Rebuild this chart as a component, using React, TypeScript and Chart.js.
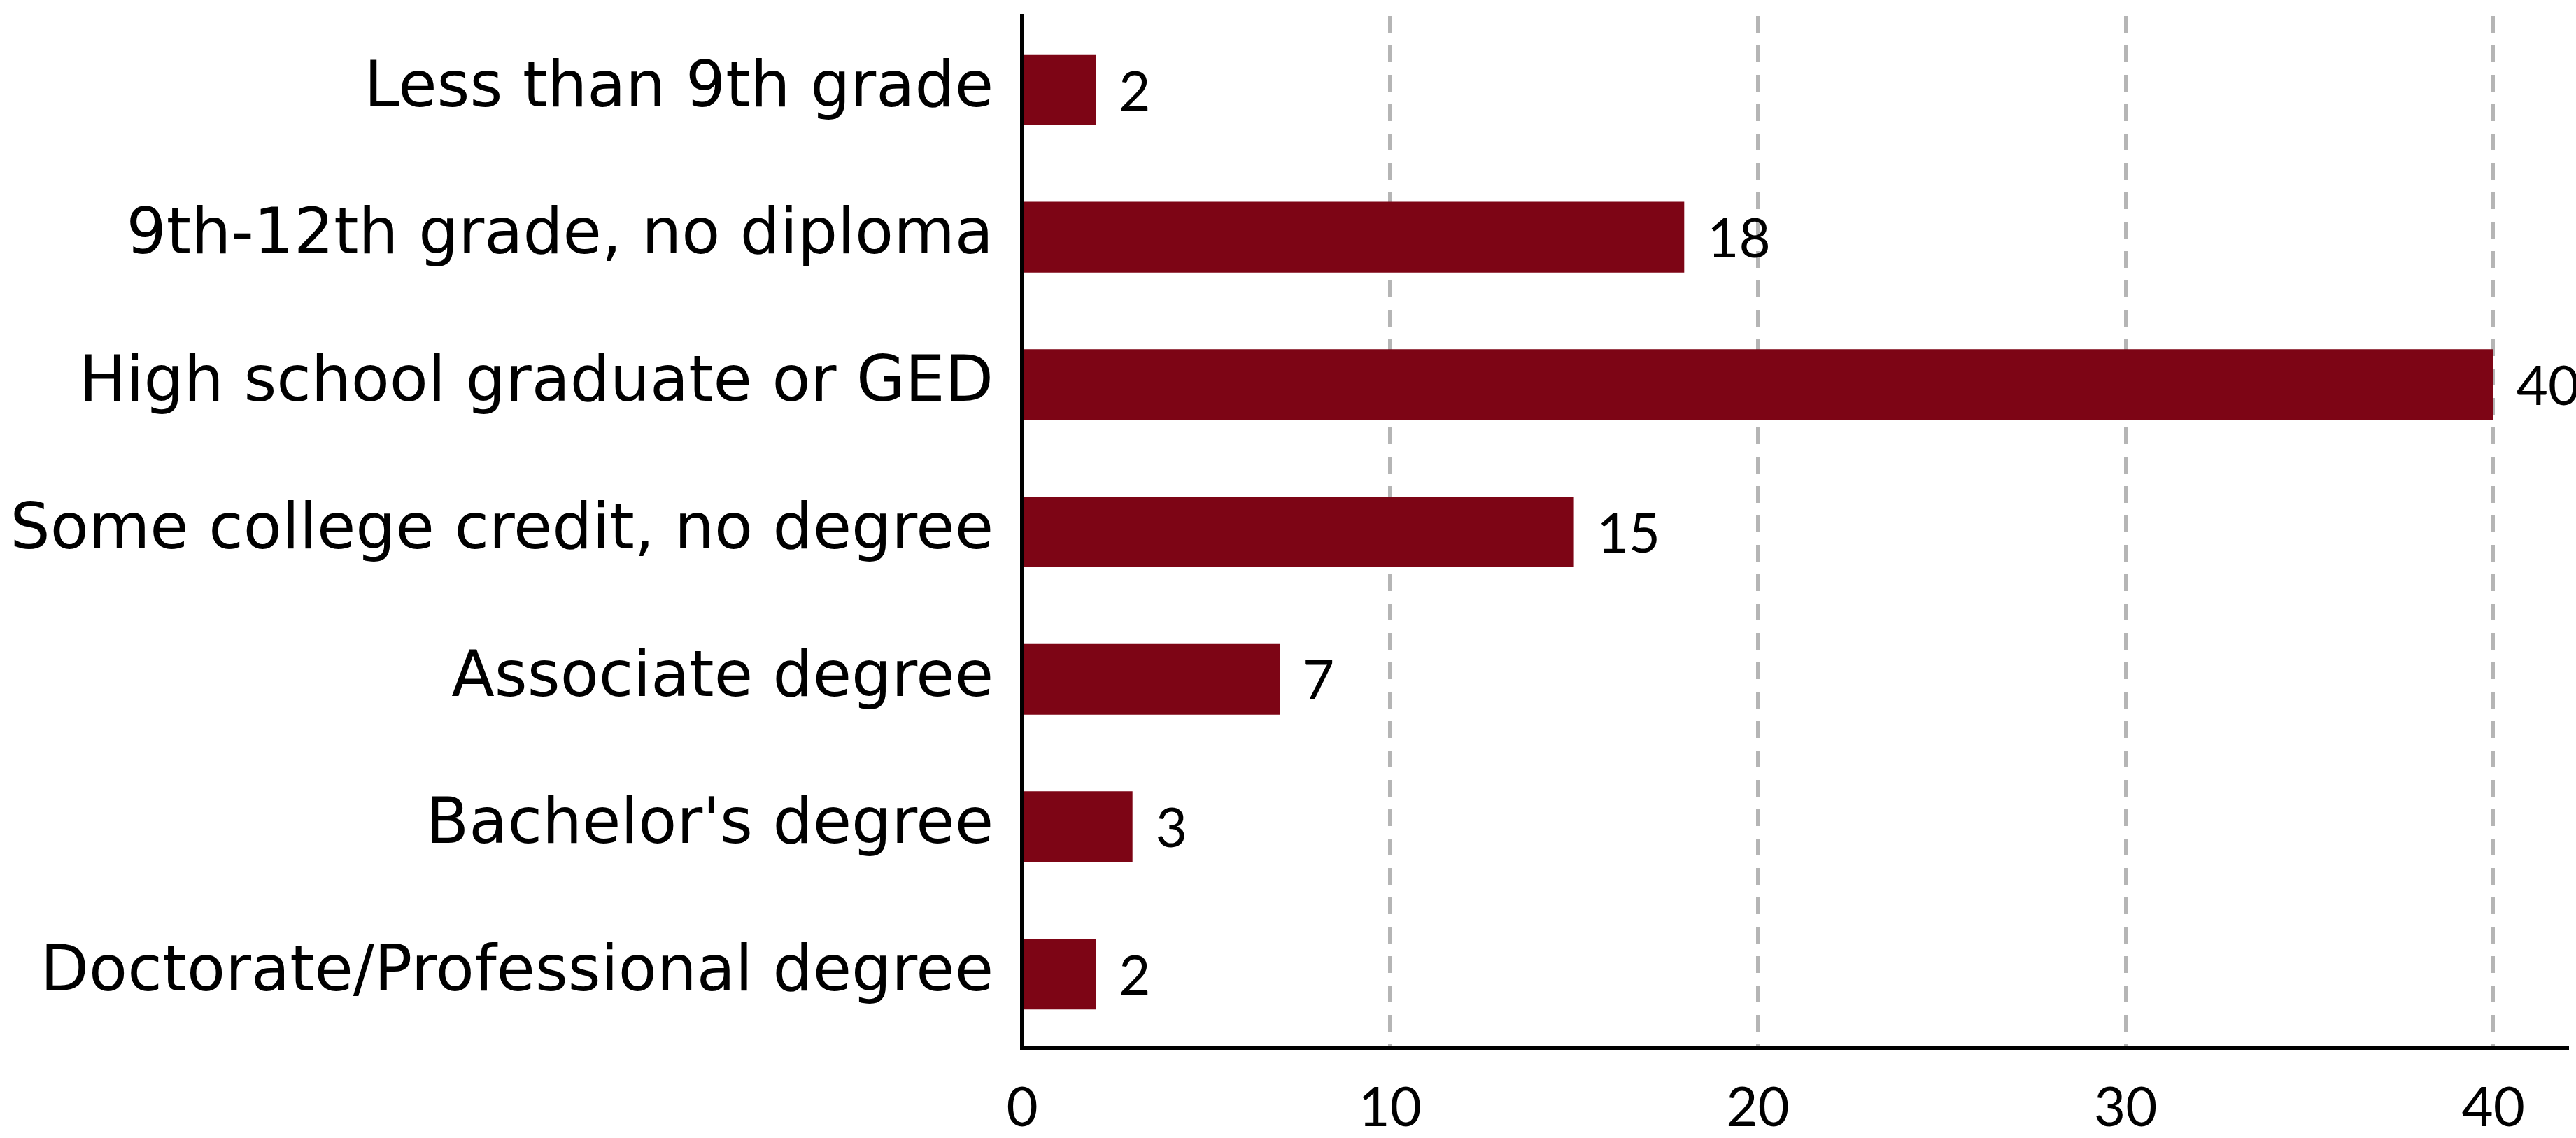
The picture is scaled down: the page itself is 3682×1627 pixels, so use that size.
import React, { useEffect, useRef } from "react";
import { Chart, registerables } from "chart.js";

Chart.register(...registerables);

const categories = [
  "Less than 9th grade",
  "9th-12th grade, no diploma",
  "High school graduate or GED",
  "Some college credit, no degree",
  "Associate degree",
  "Bachelor's degree",
  "Doctorate/Professional degree",
];
const values = [2, 18, 40, 15, 7, 3, 2];
const xTicks = [0, 10, 20, 30, 40];

const BAR_COLOR = "#7d0515";
const W = 3682;
const H = 1627;

const dataLabelPlugin = {
  id: "dataLabels",
  afterDatasetsDraw(chart: any) {
    const ctx = chart.ctx;
    const meta = chart.getDatasetMeta(0);
    ctx.save();
    ctx.font = "78px Lato";
    ctx.fillStyle = "#000";
    ctx.textAlign = "left";
    ctx.textBaseline = "middle";
    meta.data.forEach((bar: any, i: number) => {
      ctx.fillText(String(Math.round(values[i])), bar.x + 33, bar.y + 4);
    });
    ctx.restore();
  },
};

export default function App() {
  const ref = useRef<HTMLCanvasElement | null>(null);
  useEffect(() => {
    document.body.style.margin = "0";
    const canvas = ref.current!;
    const chart = new Chart(canvas, {
      type: "bar",
      data: {
        labels: categories,
        datasets: [
          {
            data: values,
            backgroundColor: BAR_COLOR,
            borderWidth: 0,
            barPercentage: 0.48,
            categoryPercentage: 1,
          },
        ],
      },
      options: {
        indexAxis: "y",
        responsive: false,
        animation: false,
        devicePixelRatio: 1,
        layout: { padding: { top: 23, right: 13, left: 0, bottom: 0 } },
        plugins: {
          legend: { display: false },
          tooltip: { enabled: false },
        },
        scales: {
          x: {
            min: 0,
            max: 42,
            afterBuildTicks(scale: any) {
              scale.ticks = xTicks.map((v) => ({ value: v }));
            },
            afterFit(scale: any) {
              scale.height = 129;
              scale.paddingLeft = 0;
              scale.paddingRight = 0;
              scale.paddingTop = 0;
              scale.paddingBottom = 0;
            },
            grid: {
              display: true,
              drawTicks: false,
              color: "#b5b5b5",
              lineWidth: 5,
            },
            border: { display: true, color: "#000", width: 6, dash: [24, 18] },
            ticks: {
              padding: 40,
              color: "#000",
              font: { family: "Lato", size: 78 },
              callback: (v: any) => String(v),
            },
          },
          y: {
            afterFit(scale: any) {
              scale.width = 1461;
              scale.paddingLeft = 0;
              scale.paddingRight = 0;
              scale.paddingTop = 0;
              scale.paddingBottom = 0;
            },
            grid: { display: true, drawTicks: false, color: "rgba(0,0,0,0)" },
            border: { display: true, color: "#000", width: 6 },
            ticks: {
              padding: 41,
              color: "#000",
              font: { family: "DejaVu Sans", size: 90 },
            },
          },
        },
      },
      plugins: [dataLabelPlugin],
    });
    return () => chart.destroy();
  }, []);
  return (
    <div style={{ width: W, height: H, position: "relative" }}>
      <canvas ref={ref} width={W} height={H} style={{ display: "block" }} />
    </div>
  );
}
